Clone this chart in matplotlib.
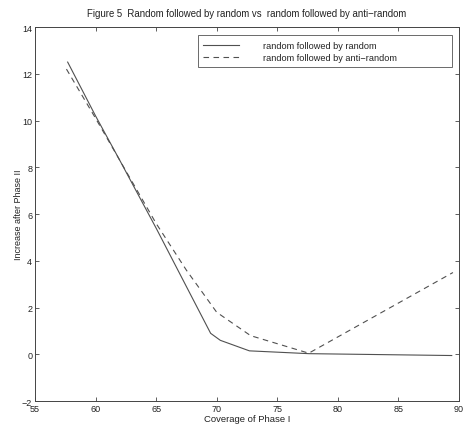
import numpy as np
import matplotlib
matplotlib.use('Agg')
import matplotlib.pyplot as plt

# values
cov_rr = [57.7, 60, 62, 65, 67.5, 69.5, 70.3, 72.7, 77.6, 89.4]
inc_rr = [12.5, 10.2, 8.3, 5.4, 2.9, 0.9, 0.6, 0.15, 0.03, -0.05]

cov_ra = [57.6, 60, 62, 65, 67.5, 70, 72.8, 77.6, 89.5]
inc_ra = [12.2, 10.1, 8.3, 5.6, 3.6, 1.8, 0.8, 0.05, 3.5]

xticks = [55, 60, 65, 70, 75, 80, 85, 90]
yticks = [-2, 0, 2, 4, 6, 8, 10, 12, 14]

plt.rcParams['font.family'] = ['Liberation Sans', 'DejaVu Sans']
plt.rcParams['font.size'] = 6.5

fig = plt.figure(figsize=(4.66, 4.31), dpi=100)
ax = fig.add_axes([0.075, 0.067, 0.91, 0.868])

line_col = '#505050'
ax.plot(cov_rr, inc_rr, color=line_col, lw=0.8, label='random followed by random')
ax.plot(cov_ra, inc_ra, color=line_col, lw=0.8, ls=(0, (5, 4)),
        label='random followed by anti\u2212random')

ax.set_xlim(55, 90)
ax.set_ylim(-2, 14)
ax.set_xticks(xticks)
ax.set_yticks(yticks)
ax.tick_params(direction='in', top=True, right=True, length=3, width=0.6,
               color='#444444', labelcolor='#222222', pad=2)
for s in ax.spines.values():
    s.set_linewidth(0.7)
    s.set_color('#444444')

ax.set_title('Figure 5  Random followed by random vs  random followed by anti\u2212random',
             fontsize=6.9, color='#222222', pad=8)
ax.set_xlabel('Coverage of Phase I', fontsize=6.8, color='#222222', labelpad=1)
ax.set_ylabel('Increase after Phase II', fontsize=6.5, color='#222222', labelpad=-1)

leg = ax.legend(loc='upper left', bbox_to_anchor=(0.384, 0.888, 0.6, 0.09),
                mode='expand', borderaxespad=0, fancybox=False, frameon=True,
                handlelength=3.9, handletextpad=2.6, labelspacing=0.35,
                fontsize=6.6, borderpad=0.6)
leg.get_frame().set_edgecolor('#444444')
leg.get_frame().set_linewidth(0.7)
for t in leg.get_texts():
    t.set_color('#222222')

plt.savefig('out.png', dpi=100)
